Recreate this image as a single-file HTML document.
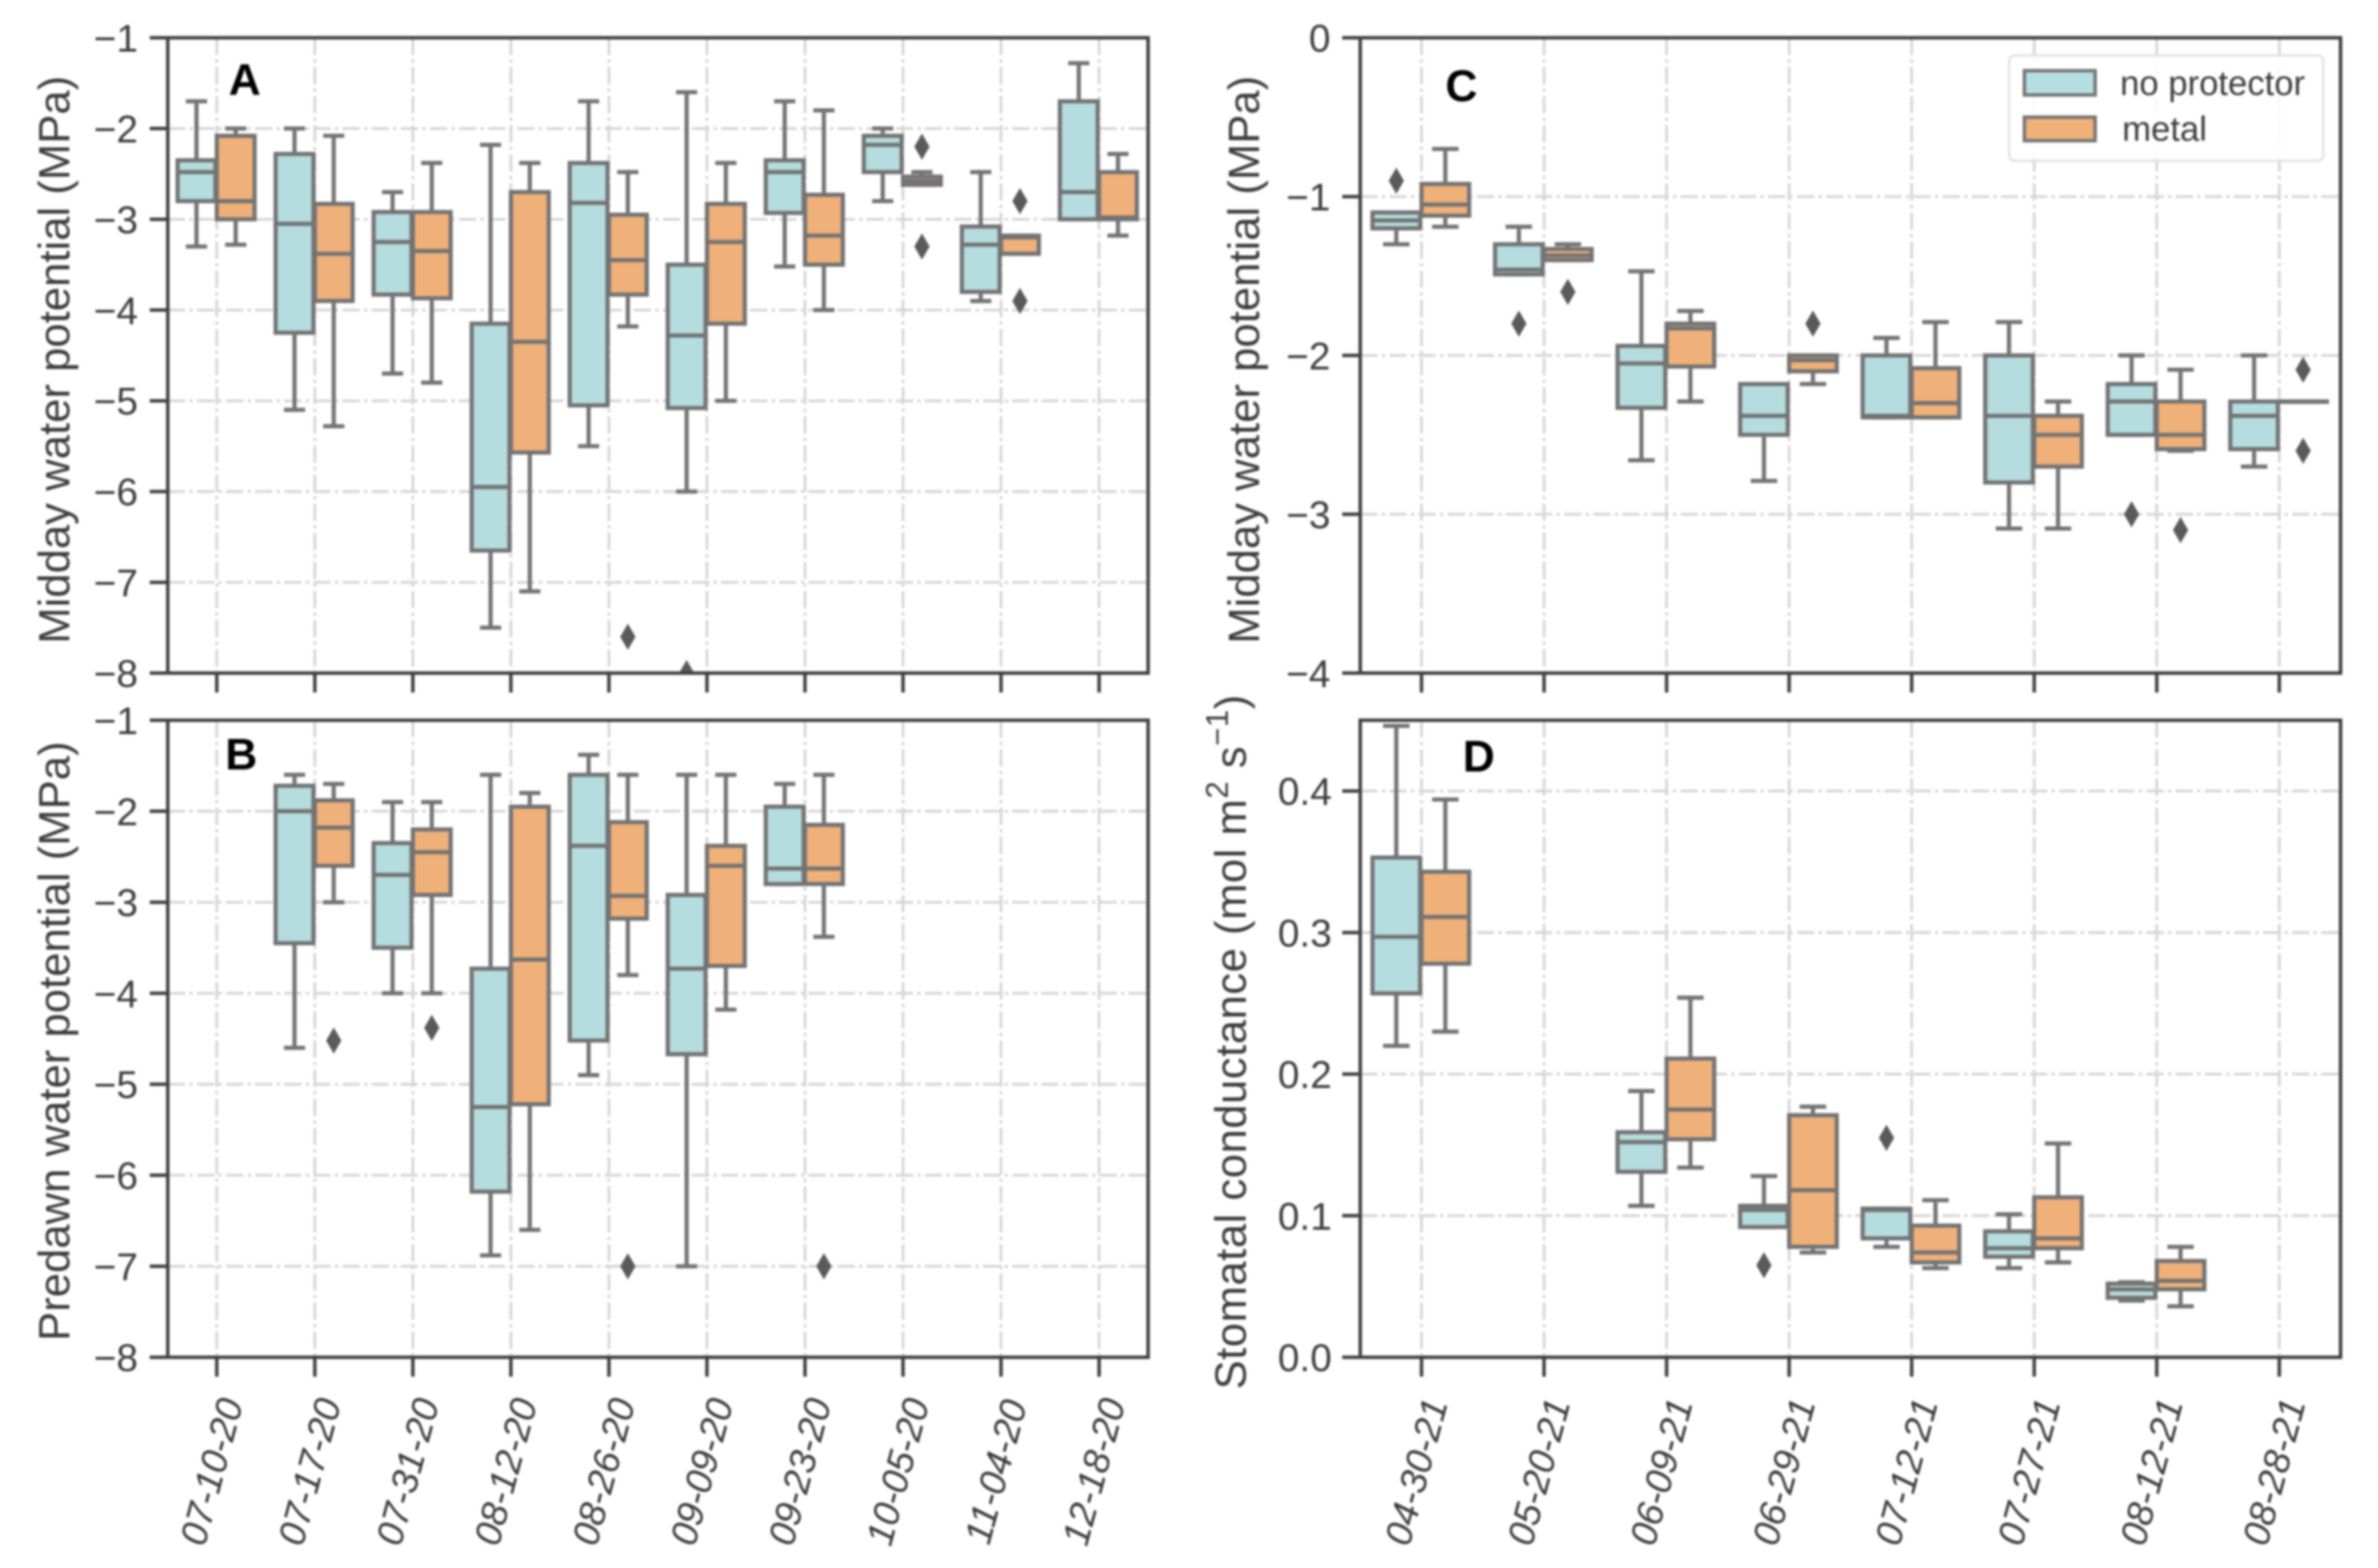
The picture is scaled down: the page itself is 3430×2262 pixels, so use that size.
<!DOCTYPE html>
<html lang="en">
<head>
<meta charset="utf-8">
<title>Water potential and stomatal conductance box plots</title>
<style>
  html, body { margin: 0; padding: 0; background: #ffffff; }
  body { width: 3430px; height: 2262px; overflow: hidden; }
  svg { display: block; filter: blur(1.5px); font-family: "Liberation Sans", Arial, sans-serif; }
</style>
</head>
<body>
<svg id="figure" xmlns="http://www.w3.org/2000/svg" width="3430" height="2262" viewBox="0 0 3430 2262"></svg>
<script>
// Category labels
const datesLeft = ['07-10-20','07-17-20','07-31-20','08-12-20','08-26-20','09-09-20','09-23-20','10-05-20','11-04-20','12-18-20'];
const datesRight = ['04-30-21','05-20-21','06-09-21','06-29-21','07-12-21','07-27-21','08-12-21','08-28-21'];

// Tick values
const ticksWaterLeft = [-1,-2,-3,-4,-5,-6,-7,-8];
const ticksWaterRight = [0,-1,-2,-3,-4];
const ticksConductance = [0.0,0.1,0.2,0.3,0.4];

// Each row: [whisker high, q3, median, q1, whisker low]
const panelANoProtector = [
  [-1.7,-2.35,-2.48,-2.8,-3.3],
  [-2.0,-2.28,-3.05,-4.25,-5.1],
  [-2.7,-2.92,-3.25,-3.83,-4.7],
  [-2.18,-4.15,-5.95,-6.65,-7.5],
  [-1.7,-2.38,-2.82,-5.05,-5.5],
  [-1.6,-3.5,-4.28,-5.08,-6.0],
  [-1.7,-2.35,-2.48,-2.93,-3.52],
  [-2.0,-2.08,-2.18,-2.48,-2.8],
  [-2.48,-3.08,-3.28,-3.8,-3.9],
  [-1.28,-1.7,-2.7,-3.0,-3.0]
];
const panelAMetal = [
  [-2.0,-2.08,-2.8,-3.0,-3.28],
  [-2.08,-2.83,-3.38,-3.9,-5.28],
  [-2.38,-2.92,-3.35,-3.87,-4.8],
  [-2.38,-2.7,-4.35,-5.57,-7.1],
  [-2.48,-2.95,-3.45,-3.83,-4.18],
  [-2.38,-2.83,-3.25,-4.15,-5.0],
  [-1.8,-2.73,-3.18,-3.5,-4.0],
  [-2.48,-2.53,-2.58,-2.62,-2.62],
  [-3.18,-3.18,-3.2,-3.38,-3.38],
  [-2.28,-2.48,-2.98,-3.0,-3.18]
];
const panelAOutliersNoProtector = [[],[],[],[],[],[-8],[],[],[],[]];
const panelAOutliersMetal = [[],[],[],[],[-7.6],[],[],[-2.2,-3.3],[-2.8,-3.9],[]];

const panelBNoProtector = [
  null,
  [-1.6,-1.72,-2.0,-3.45,-4.6],
  [-1.9,-2.35,-2.7,-3.5,-4.0],
  [-1.6,-3.73,-5.25,-6.18,-6.88],
  [-1.38,-1.6,-2.38,-4.52,-4.9],
  [-1.6,-2.92,-3.73,-4.67,-7.0],
  [-1.7,-1.95,-2.63,-2.8,-2.8],
  null,null,null
];
const panelBMetal = [
  null,
  [-1.7,-1.88,-2.18,-2.6,-3.0],
  [-1.9,-2.2,-2.45,-2.92,-4.0],
  [-1.8,-1.95,-3.63,-5.22,-6.6],
  [-1.6,-2.12,-2.93,-3.18,-3.8],
  [-1.6,-2.38,-2.6,-3.7,-4.18],
  [-1.6,-2.15,-2.63,-2.8,-3.38],
  null,null,null
];
const panelBOutliersNoProtector = [[],[],[],[],[],[],[],[],[],[]];
const panelBOutliersMetal = [[],[-4.52],[-4.38],[],[-7.0],[],[-7.0],[],[],[]];

const panelCNoProtector = [
  [-1.1,-1.1,-1.15,-1.2,-1.3],
  [-1.19,-1.3,-1.46,-1.49,-1.49],
  [-1.47,-1.94,-2.05,-2.33,-2.66],
  [-2.18,-2.18,-2.38,-2.5,-2.79],
  [-1.89,-2.0,-2.38,-2.39,-2.39],
  [-1.79,-2.0,-2.38,-2.8,-3.09],
  [-2.0,-2.18,-2.29,-2.5,-2.5],
  [-2.0,-2.29,-2.38,-2.59,-2.7]
];
const panelCMetal = [
  [-0.7,-0.92,-1.05,-1.12,-1.19],
  [-1.3,-1.33,-1.37,-1.4,-1.4],
  [-1.72,-1.8,-1.83,-2.07,-2.29],
  [-2.0,-2.0,-2.03,-2.1,-2.18],
  [-1.79,-2.08,-2.3,-2.39,-2.39],
  [-2.29,-2.38,-2.5,-2.7,-3.09],
  [-2.09,-2.29,-2.5,-2.59,-2.6],
  [-2.29,-2.29,-2.29,-2.29,-2.29]
];
const panelCOutliersNoProtector = [[-0.9],[-1.8],[],[],[],[],[-3.0],[]];
const panelCOutliersMetal = [[],[-1.6],[],[-1.8],[],[],[-3.1],[-2.09,-2.6]];

const panelDNoProtector = [
  [0.446,0.353,0.297,0.257,0.22],
  null,
  [0.188,0.159,0.152,0.131,0.107],
  [0.128,0.107,0.104,0.092,0.092],
  [0.105,0.105,0.104,0.084,0.078],
  [0.101,0.089,0.077,0.071,0.063],
  [0.053,0.052,0.048,0.042,0.04],
  null
];
const panelDMetal = [
  [0.394,0.343,0.311,0.278,0.23],
  null,
  [0.254,0.211,0.175,0.154,0.134],
  [0.177,0.171,0.118,0.078,0.074],
  [0.111,0.093,0.074,0.067,0.063],
  [0.151,0.113,0.084,0.077,0.067],
  [0.078,0.068,0.054,0.048,0.036],
  null
];
const panelDOutliersNoProtector = [[],[],[],[0.065],[0.155],[],[],[]];
const panelDOutliersMetal = [[],[],[],[],[],[],[],[]];

// Drawing
const NS = 'http://www.w3.org/2000/svg';
const root = document.getElementById('figure');
const SPINE = '#404040';
const EDGE = '#737373';
const GRID = '#d6d6d6';
const TEXT = '#3c3c3c';
const BLUE = '#b5dcdf';
const ORANGE = '#efb07a';

function make(parent, tag, attrs, text) {
  const el = document.createElementNS(NS, tag);
  for (const k in attrs) el.setAttribute(k, attrs[k]);
  if (text !== undefined) el.textContent = text;
  parent.appendChild(el);
  return el;
}

function line(parent, x1, y1, x2, y2, stroke, width) {
  return make(parent, 'line', {x1: x1, y1: y1, x2: x2, y2: y2, stroke: stroke, 'stroke-width': width});
}

function drawSeries(plot, id, seriesName, rows, outliers, fill, offset, xScale, yScale, step) {
  const boxW = step * 0.4;
  const capW = boxW * 0.54;
  rows.forEach(function (row, i) {
    const cx = xScale(i) + offset * step - 1;
    if (row) {
      const g = make(plot, 'g', {});
      
      
      const hi = yScale(row[0]), q3 = yScale(row[1]), med = yScale(row[2]), q1 = yScale(row[3]), lo = yScale(row[4]);
      line(g, cx, hi, cx, q3, EDGE, 6);
      line(g, cx, q1, cx, lo, EDGE, 6);
      line(g, cx - capW / 2, hi, cx + capW / 2, hi, EDGE, 6);
      line(g, cx - capW / 2, lo, cx + capW / 2, lo, EDGE, 6);
      make(g, 'rect', {x: cx - boxW / 2 + 1, y: q3, width: boxW - 2, height: Math.max(q1 - q3, 0.5), fill: fill, stroke: EDGE, 'stroke-width': 6});
      line(g, cx - boxW / 2 + 1, med, cx + boxW / 2 - 1, med, EDGE, 6);
    }
    outliers[i].forEach(function (v) {
      const y = yScale(v);
      const d = make(plot, 'polygon', {points: (cx - 11) + ',' + y + ' ' + cx + ',' + (y - 19) + ' ' + (cx + 11) + ',' + y + ' ' + cx + ',' + (y + 19), fill: '#5a5a5a'});
      
      
    });
  });
}

function drawPanel(cfg) {
  const width = cfg.right - cfg.left;
  const height = cfg.bottom - cfg.top;
  const step = width / cfg.categories.length;
  const xScale = function (i) { return cfg.left + step * (i + 0.5); };
  const yScale = function (v) { return cfg.top + (cfg.yMax - v) / (cfg.yMax - cfg.yMin) * height; };

  const panel = make(root, 'g', {});
  
  

  const clip = make(panel, 'clipPath', {id: 'clip-' + cfg.id});
  make(clip, 'rect', {x: cfg.left, y: cfg.top, width: width, height: height});

  const grid = make(panel, 'g', {'stroke-dasharray': '25 6 5 6'});
  
  
  cfg.yTicks.forEach(function (t) { line(grid, cfg.left, yScale(t), cfg.right, yScale(t), GRID, 4); });
  cfg.categories.forEach(function (c, i) { line(grid, xScale(i), cfg.top, xScale(i), cfg.bottom, GRID, 4); });

  const plot = make(panel, 'g', {'clip-path': 'url(#clip-' + cfg.id + ')'});
  
  
  drawSeries(plot, cfg.id, 'no-protector', cfg.noProtector, cfg.outliersNoProtector, BLUE, -0.2, xScale, yScale, step);
  drawSeries(plot, cfg.id, 'metal', cfg.metal, cfg.outliersMetal, ORANGE, 0.2, xScale, yScale, step);

  const frame = make(panel, 'rect', {x: cfg.left, y: cfg.top, width: width, height: height, fill: 'none', stroke: SPINE, 'stroke-width': 5});
  
  

  cfg.yTicks.forEach(function (t) {
    const y = yScale(t);
    const tick = line(panel, cfg.left - 26, y, cfg.left, y, SPINE, 5);
    
    
    const label = cfg.decimals ? t.toFixed(cfg.decimals) : String(t).replace('-', '\u2212');
    const txt = make(panel, 'text', {x: cfg.tickLabelX, y: y + 20, 'text-anchor': 'end', 'font-size': 56, fill: TEXT}, label);
    
    
  });

  cfg.categories.forEach(function (c, i) {
    const x = xScale(i);
    const tick = line(panel, x, cfg.bottom, x, cfg.bottom + 28, SPINE, 5);
    
    
    if (cfg.showXLabels) {
      const lx = x - 8, ly = 2123;
      const txt = make(panel, 'text', {x: lx, y: ly + 19, 'text-anchor': 'middle', 'font-size': 54, 'font-style': 'italic', fill: TEXT, transform: 'rotate(-75 ' + lx + ' ' + ly + ')'}, c);
      
      
    }
  });

  const letter = make(panel, 'text', {x: cfg.letterX, y: cfg.letterY, 'text-anchor': 'middle', 'font-size': 64, 'font-weight': 'bold', fill: '#000000'}, cfg.id.toUpperCase());
  
  
}

drawPanel({id: 'a', left: 242, right: 1656, top: 54.5, bottom: 971, yMax: -1, yMin: -8, yTicks: ticksWaterLeft, categories: datesLeft, noProtector: panelANoProtector, metal: panelAMetal, outliersNoProtector: panelAOutliersNoProtector, outliersMetal: panelAOutliersMetal, tickLabelX: 199, letterX: 353, letterY: 137, showXLabels: false});
drawPanel({id: 'b', left: 242, right: 1656, top: 1039, bottom: 1958, yMax: -1, yMin: -8, yTicks: ticksWaterLeft, categories: datesLeft, noProtector: panelBNoProtector, metal: panelBMetal, outliersNoProtector: panelBOutliersNoProtector, outliersMetal: panelBOutliersMetal, tickLabelX: 199, letterX: 348, letterY: 1110, showXLabels: true});
drawPanel({id: 'c', left: 1962, right: 3376, top: 54.5, bottom: 971, yMax: 0, yMin: -4, yTicks: ticksWaterRight, categories: datesRight, noProtector: panelCNoProtector, metal: panelCMetal, outliersNoProtector: panelCOutliersNoProtector, outliersMetal: panelCOutliersMetal, tickLabelX: 1919, letterX: 2108, letterY: 146, showXLabels: false});
drawPanel({id: 'd', left: 1962, right: 3376, top: 1039, bottom: 1958, yMax: 0.45, yMin: 0, yTicks: ticksConductance, categories: datesRight, noProtector: panelDNoProtector, metal: panelDMetal, outliersNoProtector: panelDOutliersNoProtector, outliersMetal: panelDOutliersMetal, tickLabelX: 1921, letterX: 2133, letterY: 1113, showXLabels: true, decimals: 1});
</script>
<script>
(function () {
  const svg = document.getElementById('figure');
  const ns = 'http://www.w3.org/2000/svg';
  function label(x, y, name, str) {
    const t = document.createElementNS(ns, 'text');
    t.setAttribute('transform', 'translate(' + x + ' ' + y + ') rotate(-90)');
    t.setAttribute('text-anchor', 'middle');
    t.setAttribute('font-size', '63');
    t.setAttribute('fill', '#3c3c3c');
    t.textContent = str;
    
    
    svg.appendChild(t);
    return t;
  }
  label(100, 519, 'panel-a-y-axis-title', 'Midday water potential (MPa)');
  label(100, 1502, 'panel-b-y-axis-title', 'Predawn water potential (MPa)');
  label(1816, 519, 'panel-c-y-axis-title', 'Midday water potential (MPa)');
})();
</script>
<script>
(function () {
  const svg = document.getElementById('figure');
  const legend = `
  <g>
    <text transform="translate(1797 1503) rotate(-90)" text-anchor="middle" font-size="63" letter-spacing="0.7" fill="#3c3c3c">Stomatal conductance (mol m<tspan dy="-26" font-size="45">2</tspan><tspan dy="26"> s</tspan><tspan dy="-26" font-size="45">\u22121</tspan><tspan dy="26">)</tspan></text>
  </g>
  <g>
    <rect x="2898" y="80" width="453" height="152" rx="8" ry="8" fill="#ffffff" fill-opacity="0.85" stroke="#e2e2e2" stroke-width="3.5"></rect>
    <rect x="2920" y="102" width="102" height="35" fill="#b5dfe3" stroke="#757575" stroke-width="5"></rect>
    <text x="3058" y="137" font-size="50" fill="#3c3c3c">no protector</text>
    <rect x="2920" y="169" width="102" height="34" fill="#efb07a" stroke="#757575" stroke-width="5"></rect>
    <text x="3061" y="203" font-size="50" fill="#3c3c3c">metal</text>
  </g>`;
  svg.insertAdjacentHTML('beforeend', legend);
})();
</script>
</body>
</html>
